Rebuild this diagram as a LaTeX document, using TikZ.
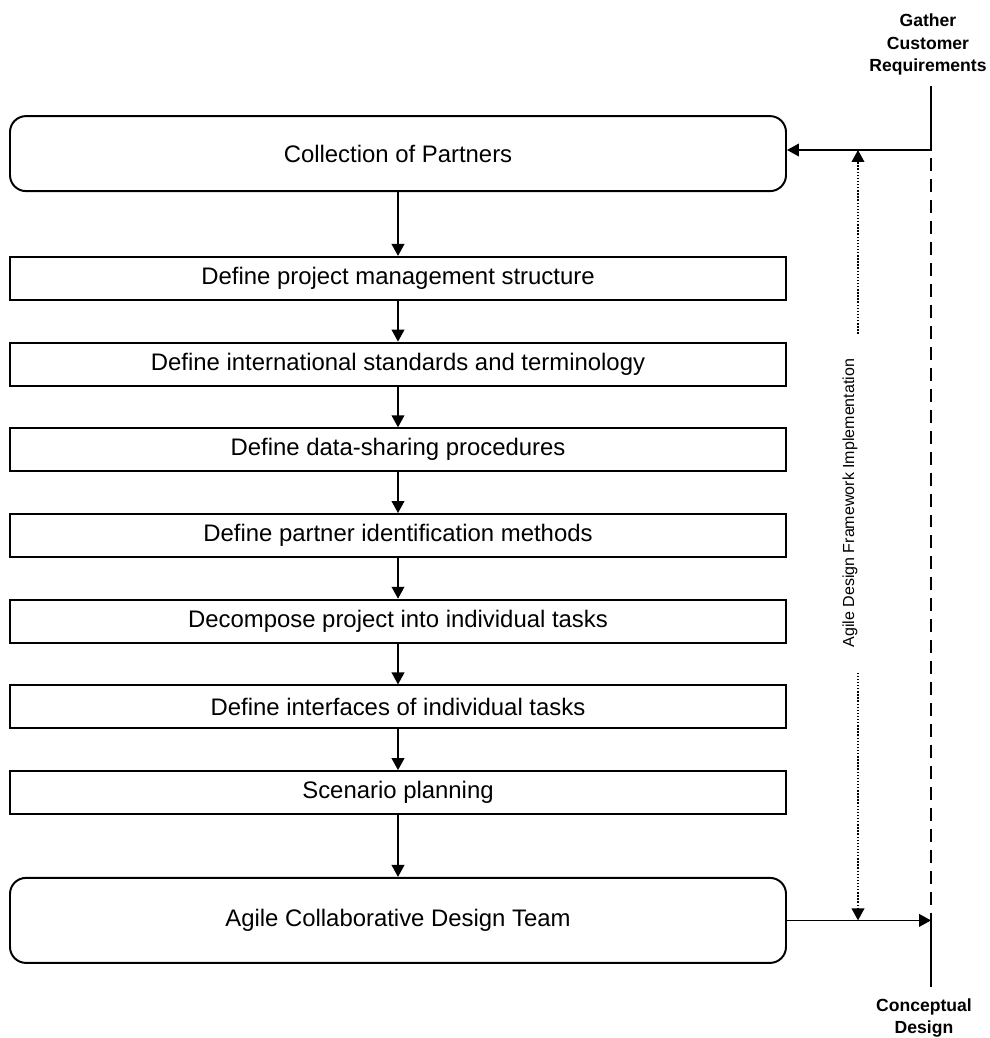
\documentclass[tikz,border=0pt]{standalone}
\usepackage{fontspec}
\setmainfont{Liberation Sans}
\usetikzlibrary{arrows.meta,positioning}
\tikzset{
  ahead/.style={-{Triangle[length=8.5pt,width=9pt]}},
  flow/.style={line width=1.2pt,ahead},
  rule/.style={line width=1.2pt},
  task/.style={draw,line width=1.4pt,minimum width=19.4cm,minimum height=1.075cm,inner sep=0pt,font=\fontsize{17}{20}\selectfont},
  stage/.style={task,rounded corners=0.4cm},
  side/.style={align=center,font=\fontsize{12.5}{16}\selectfont\bfseries},
  dots/.style={line width=1pt,dash pattern=on 1pt off 1.2pt},
}

\begin{document}
\begin{tikzpicture}
  \useasboundingbox (0,0) rectangle (24.75,-25.95);
  % left column
  \node[stage,minimum height=1.875cm] (cop) at (9.95,-3.84) {Collection of Partners};
  \foreach \n/\t [count=\k from 0] in {t1/{Define project management structure},
      t2/{Define international standards and terminology},
      t3/{Define data-sharing procedures},
      t4/{Define partner identification methods},
      t5/{Decompose project into individual tasks},
      t6/{Define interfaces of individual tasks},
      t7/{Scenario planning}} {
    \node[task] (\n) at (9.95,{-6.96-2.1425*\k}) {\t};
  }
  \node[stage,minimum height=2.125cm] (acd) at (9.95,-23.01) {Agile Collaborative Design Team};
  \foreach \a/\b in {cop/t1,t1/t2,t2/t3,t3/t4,t4/t5,t5/t6,t6/t7,t7/acd}
    \draw[flow] (\a) -- (\b);
  % right side
  \node[side] (gcr) at (23.2,-1.12) {Gather\\Customer\\Requirements};
  \node[side] (cd) at (23.1,-25.45) {Conceptual\\Design};
  \coordinate (rtop) at (23.275,-2.15);
  \coordinate (rin) at (23.275,-3.75);
  \coordinate (rbot) at (23.275,-24.675);
  \draw[rule] (rtop) -- (rin);
  \draw[rule,dash pattern=on 9.2pt off 5.7pt,dash phase=-6pt] (rin) -- (acd.east -| rin);
  \draw[rule] (acd.east -| rin) -- (rbot);
  \draw[flow] (rin) -- (rin -| cop.east);
  \draw[flow] (acd.east) -- (acd.east -| rin);
  % framework span
  \node[rotate=90,font=\fontsize{11.4}{14}\selectfont,inner xsep=0.62cm] (adfi) at (21.25,-12.58) {Agile Design Framework Implementation};
  \coordinate (fx) at (21.45,0);
  \draw[dots,ahead] (adfi.east -| fx) -- (rin -| fx);
  \draw[dots,ahead] (adfi.west -| fx) -- (acd.east -| fx);
\end{tikzpicture}
\end{document}
